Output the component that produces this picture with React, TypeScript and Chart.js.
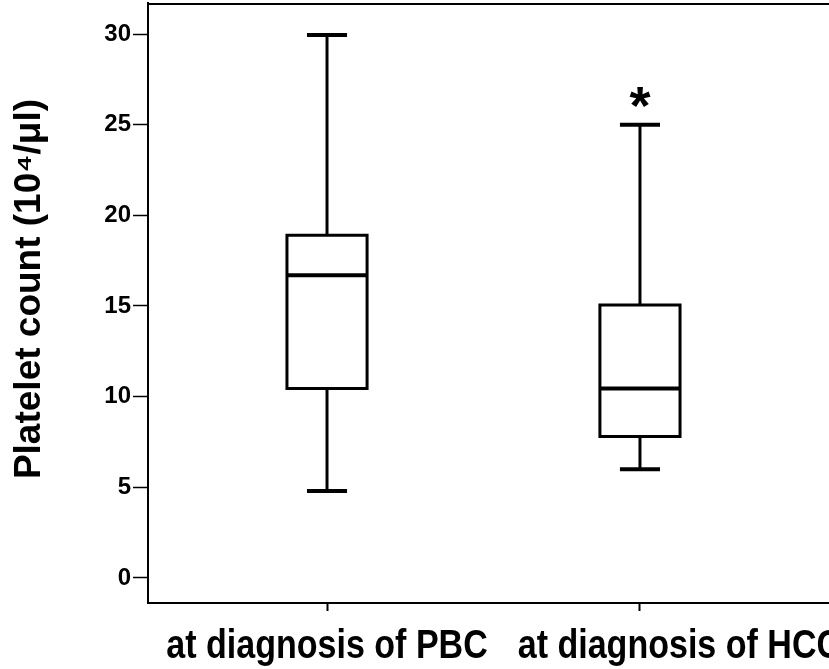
import React, { useEffect, useRef } from "react";
import { Chart, registerables } from "chart.js";

Chart.register(...registerables);

// ---- data ----
const categories = ["at diagnosis of PBC", "at diagnosis of HCC"];
const categoryPositions = [1, 2];
const whiskerLow = [4.8, 6.0];
const quartile1 = [10.45, 7.8];
const medians = [16.7, 10.45];
const quartile3 = [18.9, 15.05];
const whiskerHigh = [29.95, 25.0];
const outlierValues: number[][] = [[], [26.5]];
const yTickValues = [0, 5, 10, 15, 20, 25, 30];
const yAxisTitle = "Platelet count (10⁴/μl)";

// ---- layout constants ----
const BOX_HALF = 0.128;
const CAP_HALF = 0.064;
const LABEL_GAP = 30;
const LABEL_SQUEEZE = 0.83;
const FONT = '"Liberation Sans", Arial, Helvetica, sans-serif';

function seg(points: { x: number; y: number }[], width: number, extra: any = {}) {
  return {
    data: points,
    showLine: true,
    borderColor: "#000",
    backgroundColor: "#000",
    borderWidth: width,
    pointRadius: 0,
    pointHoverRadius: 0,
    fill: false,
    tension: 0,
    borderCapStyle: "butt",
    borderJoinStyle: "miter",
    ...extra,
  };
}

function buildDatasets() {
  const ds: any[] = [];
  categories.forEach((_, i) => {
    const x = categoryPositions[i];
    ds.push(seg([{ x, y: whiskerLow[i] }, { x, y: quartile1[i] }], 3));
    ds.push(seg([{ x: x - CAP_HALF, y: whiskerLow[i] }, { x: x + CAP_HALF, y: whiskerLow[i] }], 4));
    ds.push(seg([{ x, y: quartile3[i] }, { x, y: whiskerHigh[i] }], 3));
    ds.push(seg([{ x: x - CAP_HALF, y: whiskerHigh[i] }, { x: x + CAP_HALF, y: whiskerHigh[i] }], 4));
    ds.push(
      seg(
        [
          { x: x - BOX_HALF, y: quartile1[i] },
          { x: x + BOX_HALF, y: quartile1[i] },
          { x: x + BOX_HALF, y: quartile3[i] },
          { x: x - BOX_HALF, y: quartile3[i] },
          { x: x - BOX_HALF, y: quartile1[i] },
        ],
        3,
        { borderCapStyle: "square" }
      )
    );
    ds.push(seg([{ x: x - BOX_HALF, y: medians[i] }, { x: x + BOX_HALF, y: medians[i] }], 4));
  });
  return ds;
}

const extrasPlugin = {
  id: "extras",
  afterDatasetsDraw(chart: any) {
    const { ctx, chartArea, scales } = chart;
    const xs = scales.x;
    const ys = scales.y;
    ctx.save();
    // top frame line
    ctx.strokeStyle = "#000";
    ctx.lineWidth = 2;
    ctx.beginPath();
    ctx.moveTo(chartArea.left, chartArea.top + 1);
    ctx.lineTo(chartArea.right, chartArea.top + 1);
    ctx.stroke();
    // outliers as asterisks
    ctx.fillStyle = "#000";
    ctx.font = `bold 54px ${FONT}`;
    ctx.textAlign = "center";
    ctx.textBaseline = "alphabetic";
    outlierValues.forEach((vals, i) => {
      vals.forEach((v) => {
        const px = xs.getPixelForValue(categoryPositions[i]);
        const py = ys.getPixelForValue(v);
        const m = ctx.measureText("*");
        const b = py - (m.actualBoundingBoxDescent - m.actualBoundingBoxAscent) / 2;
        ctx.fillText("*", px, b);
      });
    });
    // category labels under the x axis (condensed, flowing so they don't collide)
    ctx.font = `bold 41px ${FONT}`;
    ctx.textAlign = "left";
    ctx.textBaseline = "alphabetic";
    let prevRight = -Infinity;
    categories.forEach((label, i) => {
      const w = ctx.measureText(label).width * LABEL_SQUEEZE;
      const cx = xs.getPixelForValue(categoryPositions[i]);
      let left = cx - w / 2;
      if (left < prevRight + LABEL_GAP) left = prevRight + LABEL_GAP;
      ctx.save();
      ctx.translate(left, xs.bottom - 11);
      ctx.scale(LABEL_SQUEEZE, 1);
      ctx.fillText(label, 0, 0);
      ctx.restore();
      prevRight = left + w;
    });
    // y axis title
    ctx.save();
    ctx.font = `bold 37px ${FONT}`;
    ctx.textAlign = "center";
    ctx.textBaseline = "middle";
    ctx.translate(30, (chartArea.top + chartArea.bottom) / 2 - 14);
    ctx.rotate(-Math.PI / 2);
    ctx.fillText(yAxisTitle, 0, 0);
    ctx.restore();
    ctx.restore();
  },
};

export default function App() {
  const ref = useRef<HTMLCanvasElement>(null);
  useEffect(() => {
    const chart = new Chart(ref.current as HTMLCanvasElement, {
      type: "scatter",
      data: { datasets: buildDatasets() },
      plugins: [extrasPlugin],
      options: {
        animation: false,
        responsive: false,
        devicePixelRatio: 1,
        layout: { padding: { top: 3, left: 0, right: 0, bottom: 0 } },
        plugins: { legend: { display: false }, tooltip: { enabled: false } },
        scales: {
          x: {
            type: "linear",
            min: 0.428,
            max: 2.604,
            afterBuildTicks: (s: any) => {
              s.ticks = categoryPositions.map((v) => ({ value: v }));
            },
            afterFit: (s: any) => {
              s.height = 66;
              s.paddingLeft = 0;
              s.paddingRight = 0;
            },
            grid: {
              display: true,
              drawOnChartArea: false,
              drawTicks: true,
              tickLength: 8,
              tickColor: "#000",
              tickWidth: 2,
            },
            border: { display: true, color: "#000", width: 2 },
            ticks: { display: false, autoSkip: false, maxRotation: 0, minRotation: 0 },
          },
          y: {
            type: "linear",
            min: -1.38,
            max: 31.71,
            afterBuildTicks: (s: any) => {
              s.ticks = yTickValues.map((v) => ({ value: v }));
            },
            afterFit: (s: any) => {
              s.width = 148;
              s.paddingTop = 0;
              s.paddingBottom = 0;
            },
            grid: {
              display: true,
              drawOnChartArea: false,
              drawTicks: true,
              tickLength: 15,
              tickColor: "#000",
              tickWidth: 1.5,
            },
            border: { display: true, color: "#000", width: 2 },
            ticks: {
              color: "#000",
              padding: 2,
              font: { family: FONT, size: 24, weight: "bold" },
            },
            title: { display: false },
          },
        },
      } as any,
    });
    return () => chart.destroy();
  }, []);
  return (
    <div style={{ position: "fixed", left: 0, top: 0, width: 829, height: 669, background: "#fff" }}>
      <canvas ref={ref} width={829} height={669} style={{ display: "block" }} />
    </div>
  );
}
